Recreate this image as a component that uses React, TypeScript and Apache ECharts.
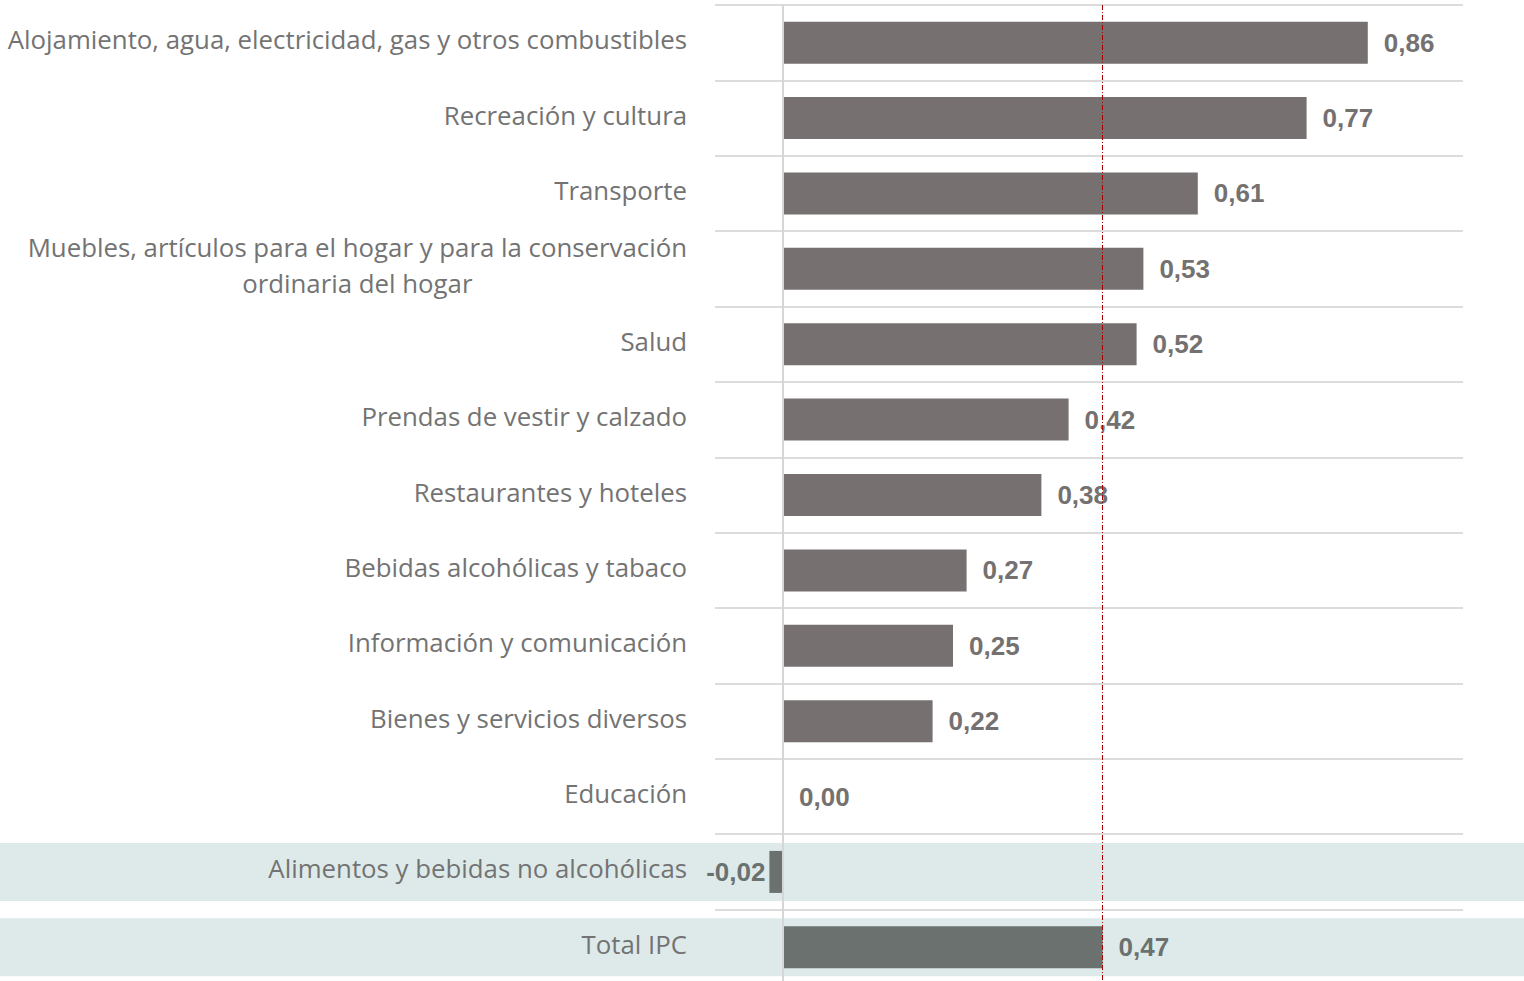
import React, { useEffect, useRef } from "react";
import * as echarts from "echarts";

const categories = [
  "Alojamiento, agua, electricidad, gas y otros combustibles",
  "Recreación y cultura",
  "Transporte",
  "Muebles, artículos para el hogar y para la conservación\nordinaria del hogar",
  "Salud",
  "Prendas de vestir y calzado",
  "Restaurantes y hoteles",
  "Bebidas alcohólicas y tabaco",
  "Información y comunicación",
  "Bienes y servicios diversos",
  "Educación",
  "Alimentos y bebidas no alcohólicas",
  "Total IPC",
];
const values = [0.86, 0.77, 0.61, 0.53, 0.52, 0.42, 0.38, 0.27, 0.25, 0.22, 0.0, -0.02, 0.47];
const highlighted = ["Alimentos y bebidas no alcohólicas", "Total IPC"];
const ipcReference = 0.465;
const xMin = -0.1;
const xMax = 1.0;

const fmt = (v: number) => v.toFixed(2).replace(".", ",");

export default function App() {
  const ref = useRef<HTMLDivElement>(null);
  useEffect(() => {
    if (!ref.current) return;
    const chart = echarts.init(ref.current, null, { renderer: "svg" });
    const data = values.map((v, i) => {
      const hl = highlighted.includes(categories[i]);
      return {
        value: v,
        itemStyle: { color: hl ? "#6a716f" : "#767170" },
        label: {
          position: v < 0 ? "left" : "right",
          distance: v < 0 ? 4 : 16,
          color: hl ? "#6a716f" : "#747170",
        },
      };
    });
    const labelFont = {
      color: "#737373",
      fontFamily: "Open Sans",
      fontWeight: 400,
      fontSize: 25.8,
      lineHeight: 36,
    };
    chart.setOption({
      animation: false,
      grid: { left: 715, right: 61, top: 5, height: 980, outerBoundsMode: "none" },
      xAxis: {
        type: "value",
        min: xMin,
        max: xMax,
        show: false,
        splitLine: { show: false },
      },
      yAxis: {
        type: "category",
        inverse: true,
        data: categories,
        axisLine: { show: false, onZero: false },
        axisTick: { show: false },
        splitLine: { show: true, lineStyle: { color: "#dcdcdc", width: 2 } },
        axisLabel: {
          margin: 28,
          ...labelFont,
          padding: [0, 0, 7, 0],
          formatter: (v: string) =>
            v
              .split("\n")
              .map((s) => `{a|${s}}`)
              .join("\n"),
          rich: {
            a: { align: "center", ...labelFont },
          },
        },
      },
      series: [
        {
          type: "bar",
          data,
          barWidth: 42,
          label: {
            show: true,
            distance: 16,
            fontFamily: "Liberation Sans",
            fontWeight: "bold",
            fontSize: 26,
            formatter: (p: any) => fmt(p.value),
          },
          markLine: {
            silent: true,
            symbol: "none",
            label: { show: false },
            data: [
              {
                xAxis: 0,
                lineStyle: { color: "#d6d6d6", width: 2, type: "solid" },
              },
              {
                xAxis: ipcReference,
                lineStyle: { color: "#a30000", width: 1, type: [5, 2, 1, 2] },
              },
            ],
          },
        },
      ],
    });
    const bands = highlighted.map((c) => {
      const y = chart.convertToPixel({ yAxisIndex: 0 }, c) as number;
      return {
        type: "rect",
        z: -10,
        silent: true,
        shape: { x: 0, y: y - 29, width: 1524, height: 58 },
        style: { fill: "#deeaea" },
      };
    });
    chart.setOption({ graphic: bands });
    return () => chart.dispose();
  }, []);
  return (
    <div
      ref={ref}
      style={{ position: "absolute", left: 0, top: 0, width: 1524, height: 981 }}
    />
  );
}
